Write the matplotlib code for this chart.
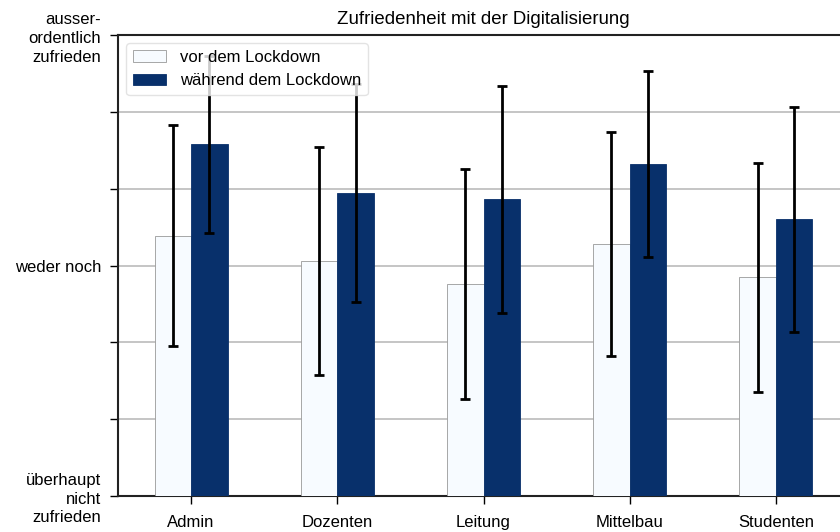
import matplotlib.pyplot as plt
import numpy as np

plt.rcParams['font.family'] = ['Liberation Sans', 'DejaVu Sans']

groups = ['Admin', 'Dozenten', 'Leitung', 'Mittelbau', 'Studenten']
vor_mean = [4.39, 4.06, 3.76, 4.28, 3.85]
vor_std = [1.44, 1.48, 1.50, 1.46, 1.49]
waehrend_mean = [5.58, 4.94, 4.86, 5.32, 4.60]
waehrend_std = [1.15, 1.42, 1.48, 1.21, 1.47]

ytick_pos = [1, 2, 3, 4, 5, 6, 7]
ytick_labels = ['überhaupt\nnicht\nzufrieden', '', '', 'weder noch', '', '', 'ausser-\nordentlich\nzufrieden']

fig = plt.figure(figsize=(8.4, 5.32), dpi=100)
ax = fig.add_axes([0.1405, 0.0677, 0.8702, 0.8663])

x = np.arange(len(groups))
w = 0.25
err_kw = dict(ecolor='black', elinewidth=2, capsize=3.5, capthick=2)
ax.bar(x - w / 2, vor_mean, w, yerr=vor_std, color='#f7fbff', edgecolor='#999999',
       linewidth=0.6, label='vor dem Lockdown', error_kw=err_kw, zorder=3)
ax.bar(x + w / 2, waehrend_mean, w, yerr=waehrend_std, color='#08306b', edgecolor='#08306b',
       linewidth=0.6, label='während dem Lockdown', error_kw=err_kw, zorder=3)

ax.set_xlim(-0.5, 4.5)
ax.set_ylim(1, 7)
ax.set_xticks(x)
ax.set_xticklabels(groups, fontsize=12)
ax.set_yticks(ytick_pos)
ax.set_yticklabels(ytick_labels, fontsize=12, linespacing=1.3)
ax.tick_params(axis='both', length=6, width=1)
ax.tick_params(axis='x', pad=8)
ax.tick_params(axis='y', pad=6)
ax.grid(axis='y', color='#bbbbbb', linewidth=1.2, zorder=0)
for s in ax.spines.values():
    s.set_linewidth(1.5)
    s.set_color('#222222')

ax.set_title('Zufriedenheit mit der Digitalisierung', fontsize=13.4, pad=8)
leg = ax.legend(loc='upper left', fontsize=12, framealpha=0.8, edgecolor='#dddddd')
leg.set_zorder(5)

fig.savefig('out.png', dpi=100)
